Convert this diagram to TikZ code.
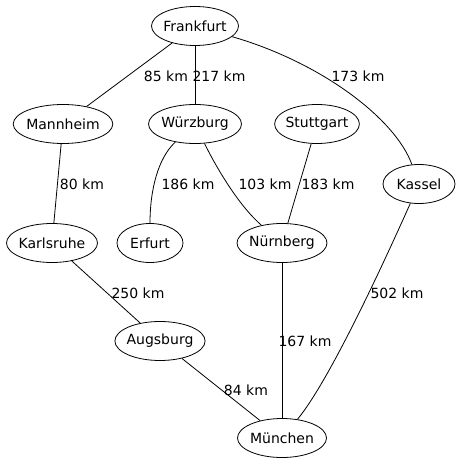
\documentclass[tikz,border=0pt]{standalone}
\usepackage{fontspec}
\setmainfont{DejaVu Sans}
\usetikzlibrary{shapes.geometric}

\begin{document}
\begin{tikzpicture}[x=1pt, y=-1pt, line width=0.8pt,
    city/.style={draw, ellipse, inner xsep=-1.5pt, minimum height=39pt},
    dist/.style={inner sep=0pt}]
        \useasboundingbox (0,0) rectangle (461,465);
        \tikzset{every node/.style={font=\fontsize{14}{16}\selectfont}}

        \node (fra) [city, minimum width=87pt] at (195,26) {Frankfurt};
        \node (man) [city, minimum width=97pt] at (63,124) {Mannheim};
        \node (wue) [city, minimum width=93pt] at (195,124) {Würzburg};
        \node (stu) [city, minimum width=82pt] at (317,124) {Stuttgart};
        \node (kas) [city, minimum width=72pt] at (419,184) {Kassel};
        \node (kar) [city, minimum width=91pt] at (52,243) {Karlsruhe};
        \node (erf) [city, minimum width=66pt] at (150,243) {Erfurt};
        \node (nue) [city, minimum width=90pt] at (282,243) {Nürnberg};
        \node (aug) [city, minimum width=90pt] at (160,341) {Augsburg};
        \node (mue) [city, minimum width=89pt] at (282,438) {München};

        \node (d1) [dist] at (166,76) {85 km};
        \node (d2) [dist] at (219,76) {217 km};
        \node (d3) [dist] at (358,76) {173 km};
        \node (d4) [dist] at (82,184) {80 km};
        \node (d5) [dist] at (188,184) {186 km};
        \node (d6) [dist] at (265,184) {103 km};
        \node (d7) [dist] at (328,184) {183 km};
        \node (d8) [dist] at (138,293) {250 km};
        \node (d9) [dist] at (397,293) {502 km};
        \node (d10) [dist] at (305,341) {167 km};
        \node (d11) [dist] at (246,390) {84 km};

        \draw (fra) -- (man);
        \draw (fra) -- (wue);
        \draw (fra) .. controls (320,62) and (395,118) .. (kas);
        \draw (man) -- (kar);
        \draw (wue) .. controls (158,158) and (150,190) .. (erf);
        \draw (wue) .. controls (215,165) and (238,205) .. (nue);
        \draw (stu) -- (nue);
        \draw (kar) -- (aug);
        \draw (nue) -- (mue);
        \draw (kas) .. controls (385,260) and (330,380) .. (mue);
        \draw (aug) -- (mue);
    \end{tikzpicture}
\end{document}
